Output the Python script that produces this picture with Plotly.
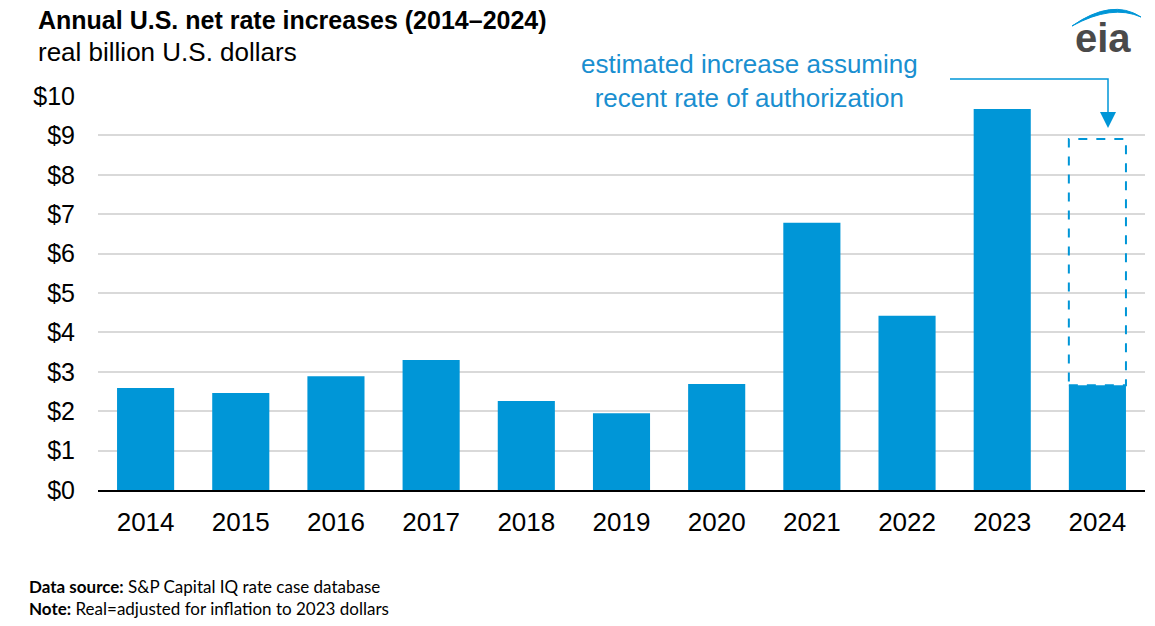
import plotly.graph_objects as go

years = ["2014", "2015", "2016", "2017", "2018", "2019", "2020", "2021", "2022", "2023", "2024"]
increases = [2.59, 2.46, 2.89, 3.30, 2.26, 1.95, 2.69, 6.78, 4.42, 9.67, 2.66]
estimate_2024 = 8.91
y_ticks = list(range(0, 11))
y_labels = ["$" + str(v) for v in y_ticks]

BLUE = "#0096d7"
W, H = 1155, 626
L, R, T, B = 98, 10, 96, 136
PW = W - L - R
PH = H - T - B


def px(xp):
    return (xp - L) / PW


def py(yp):
    return (H - B - yp) / PH


fig = go.Figure()
fig.add_trace(go.Bar(
    x=years, y=increases, marker=dict(color=BLUE, line=dict(width=0)),
    width=0.6, hoverinfo="skip", showlegend=False,
))

shapes = []
# dashed estimate box
idx = len(years) - 1
shapes.append(dict(type="rect", xref="x", yref="y", x0=idx - 0.3, x1=idx + 0.3,
                   y0=increases[-1], y1=estimate_2024,
                   line=dict(color=BLUE, width=2, dash="dash"), fillcolor="rgba(0,0,0,0)", layer="above"))
# connector line
path = f"M {px(950)} {py(79)} L {px(1108)} {py(79)} L {px(1108)} {py(112)}"
shapes.append(dict(type="path", xref="paper", yref="paper", path=path,
                   line=dict(color=BLUE, width=1.5)))
# arrowhead
tri = f"M {px(1100)} {py(112)} L {px(1116)} {py(112)} L {px(1108)} {py(128)} Z"
shapes.append(dict(type="path", xref="paper", yref="paper", path=tri,
                   line=dict(color=BLUE, width=0), fillcolor=BLUE))
# eia logo swoosh
sw = (f"M {px(1072)} {py(26)} Q {px(1112)} {py(-2)} {px(1141)} {py(17)} "
      f"Q {px(1112)} {py(4)} {px(1072)} {py(26)} Z")
shapes.append(dict(type="path", xref="paper", yref="paper", path=sw,
                   line=dict(color=BLUE, width=1), fillcolor=BLUE))

annotations = [
    dict(text="<b>Annual U.S. net rate increases (2014–2024)</b>", xref="paper", yref="paper",
         x=px(36), y=py(20), xanchor="left", yanchor="middle", showarrow=False,
         font=dict(size=25, color="#000000", family="Liberation Sans, Arial")),
    dict(text="real billion U.S. dollars", xref="paper", yref="paper",
         x=px(36), y=py(52), xanchor="left", yanchor="middle", showarrow=False,
         font=dict(size=26, color="#000000", family="Liberation Sans, Arial")),
    dict(text="estimated increase assuming<br>recent rate of authorization", xref="paper", yref="paper",
         x=px(749), y=py(81), xanchor="center", yanchor="middle", showarrow=False,
         align="center", bgcolor="#ffffff",
         font=dict(size=26, color="#1a8fd0", family="Liberation Sans, Arial")),
    dict(text="<b>eia</b>", xref="paper", yref="paper",
         x=px(1103), y=py(38), xanchor="center", yanchor="middle", showarrow=False,
         font=dict(size=40, color="#4a4a4a", family="Liberation Sans, Arial")),
    dict(text="<b>Data source:</b> S&P Capital IQ rate case database<br><b>Note:</b> Real=adjusted for inflation to 2023 dollars",
         xref="paper", yref="paper", x=px(27), y=py(597), xanchor="left", yanchor="middle",
         showarrow=False, align="left",
         font=dict(size=17, color="#000000", family="Lato, Open Sans, sans-serif")),
]

fig.update_layout(
    width=W, height=H,
    margin=dict(l=L, r=R, t=T, b=B),
    paper_bgcolor="#ffffff", plot_bgcolor="#ffffff",
    bargap=0.4,
    shapes=shapes, annotations=annotations,
    xaxis=dict(type="category", showgrid=False, ticks="", showline=True, linecolor="#000000",
               linewidth=2, tickfont=dict(size=26, color="#000000", family="Liberation Sans, Arial"),
               ticklabelstandoff=8, fixedrange=True),
    yaxis=dict(range=[0, 10], tickvals=y_ticks, ticktext=y_labels, showgrid=True,
               gridcolor="#d9d9d9", gridwidth=2, zeroline=False, ticks="",
               tickfont=dict(size=25, color="#000000", family="Liberation Sans, Arial"),
               ticklabelstandoff=22, fixedrange=True),
    showlegend=False,
)

fig.write_html("out.html", config={"displayModeBar": False},
               post_script="document.body.style.margin='0';")
